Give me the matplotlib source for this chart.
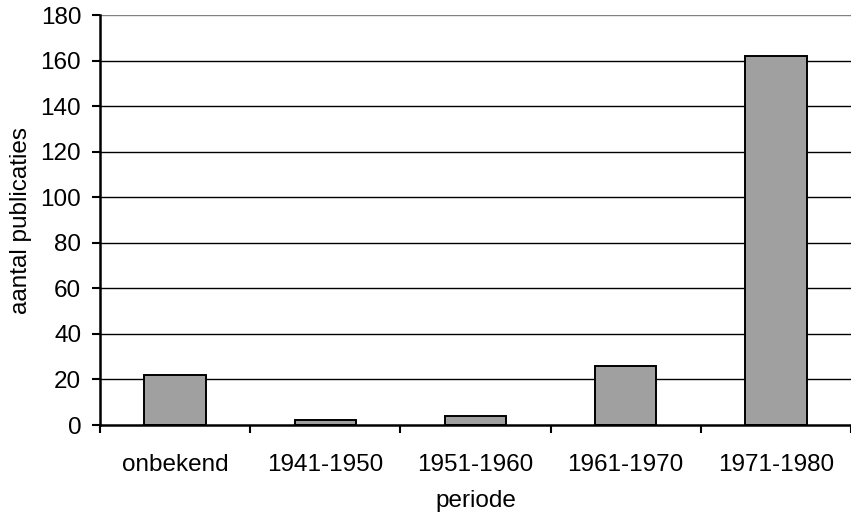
import matplotlib
matplotlib.use("Agg")
import matplotlib.pyplot as plt

categories = ["onbekend", "1941-1950", "1951-1960", "1961-1970", "1971-1980"]
values = [22, 2, 4, 26, 162]
yticks = [0, 20, 40, 60, 80, 100, 120, 140, 160, 180]

plt.rcParams['font.family'] = ['Liberation Sans', 'DejaVu Sans']
FS = 17.5

fig = plt.figure(figsize=(8.51, 5.16), dpi=100)
ax = fig.add_axes([100/851, 1-425/516, 751/851, 410/516])

x = list(range(len(categories)))
for t in yticks[1:-1]:
    ax.axhline(t, color='black', lw=1.0, zorder=1)
ax.axhline(yticks[-1], color='#808080', lw=1.0, zorder=1)

ax.bar(x, values, width=0.41, color='#a0a0a0', edgecolor='black', linewidth=1.4, zorder=2)

ax.set_xlim(-0.5, len(categories) - 0.5)
ax.set_ylim(0, 180)
ax.set_yticks(yticks)
ax.set_yticklabels([str(t) for t in yticks], fontsize=FS)
ax.set_xticks([i - 0.5 for i in range(len(categories) + 1)])
ax.set_xticklabels([])
ax.set_xticks(x, minor=True)
ax.set_xticklabels(categories, minor=True, fontsize=FS)
ax.tick_params(axis='x', which='minor', length=0, pad=21)
ax.tick_params(axis='both', which='major', direction='out', length=5.5, width=1.5, color='black')
ax.tick_params(axis='y', pad=8)

for s in ['top', 'right']:
    ax.spines[s].set_visible(False)
for s in ['left', 'bottom']:
    ax.spines[s].set_linewidth(1.8)
    ax.spines[s].set_color('black')

ax.set_ylabel("aantal publicaties", fontsize=FS, labelpad=6)
ax.set_xlabel("periode", fontsize=FS, labelpad=10)

fig.savefig("out.png", dpi=100)
